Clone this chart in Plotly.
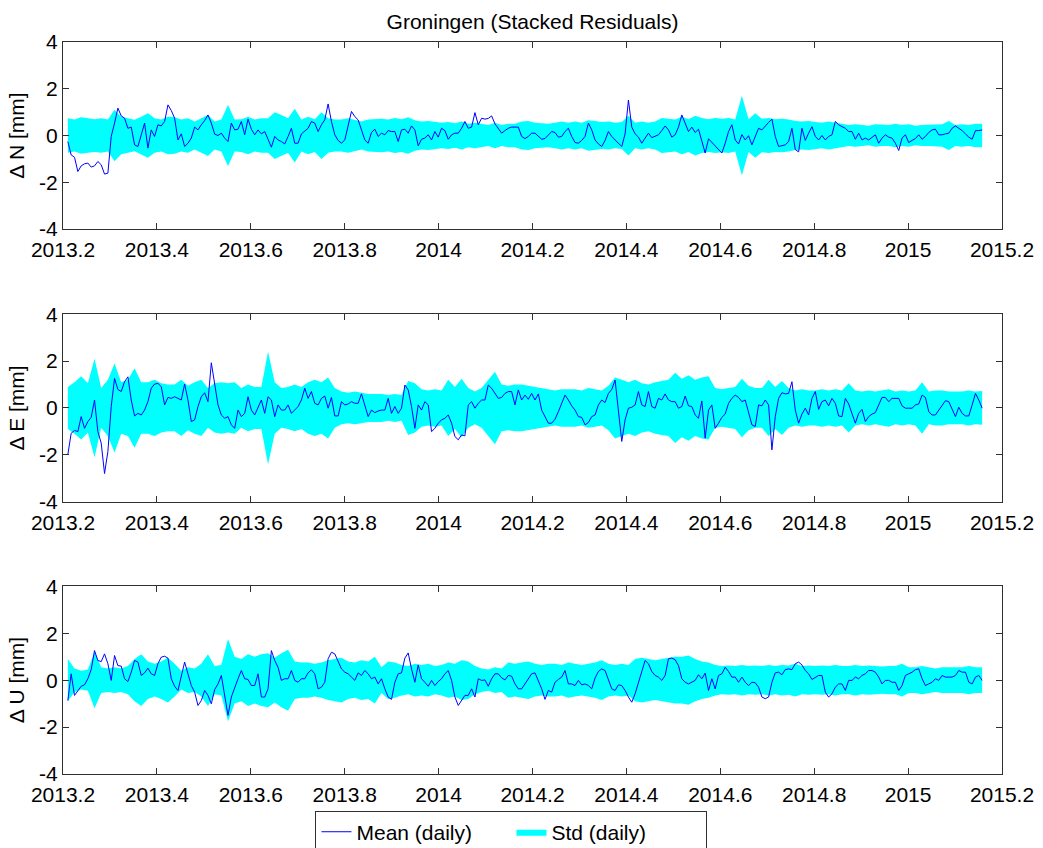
import numpy as np
import plotly.graph_objects as go

# ---------------- data ----------------
t_start, t_end = 2013.2103, 2015.1577   # first / last daily epoch (decimal years)

n_mean = [
    -0.26, -0.83, -0.93, -1.54, -1.3, -1.21, -1.18, -1.35, -1.3, -1.11,
    -1.25, -1.65, -1.61, -0.04, 0.53, 1.17, 0.84, 0.74, 0.31, 0.36,
    -0.4, -0.47, 0.03, 0.53, -0.54, 0.24, -0.04, 0.46, 0.41, 0.6,
    1.31, 1.07, 0.74, -0.19, 0.07, -0.47, -0.33, -0.11, 0.36, 0.24,
    0.46, 0.64, 0.88, 0.53, 0.06, 0.0, 0.1, -0.11, -0.26, 0.53,
    0.24, 0.27, 0.6, 0.03, 0.7, 0.27, 0.03, 0.24, 0.07, 0.17,
    -0.16, -0.5, -0.04, -0.19, -0.26, -0.36, -0.04, 0.31, -0.33, -0.33,
    0.07, 0.21, 0.31, 0.6, 0.53, 0.17, 0.46, 0.67, 1.35, 0.6,
    0.03, -0.21, -0.33, -0.19, 0.38, 1.03, 0.81, 0.67, 0.24, -0.19,
    -0.33, 0.13, 0.27, -0.04,
    0.1, 0.03, 0.21, 0.17, 0.17, -0.26, 0.24, 0.27, 0.1, 0.41,
    0.24, -0.44, -0.16, -0.11, 0.03, -0.19, 0.17, -0.07, 0.31, 0.21,
    -0.16, 0.03, 0.1, 0.1, 0.31, 0.6, 0.31, 0.36, 0.98, 0.46,
    0.74, 0.7, 0.73, 0.84, 0.5, 0.27, 0.1, 0.21, 0.31, 0.36,
    0.36, 0.36, -0.04, -0.13, -0.04, 0.1, 0.1, -0.04, -0.16, -0.13,
    0.03, 0.17, 0.13, -0.07, -0.04, 0.17, 0.31, -0.04, -0.3, -0.33,
    -0.21, -0.04, 0.53, 0.24, -0.19, -0.36, -0.47, -0.21, 0.17, -0.04,
    -0.19, -0.33, -0.47, 0.07, 1.52, 0.36, 0.07, -0.07, -0.33, -0.11,
    0.1, -0.09, -0.04, 0.03, 0.21, 0.41, 0.24, -0.07, 0.03, 0.36,
    0.88, 0.53, 0.17, 0.36, 0.13, 0.27,
    -0.19, -0.75, -0.14, -0.3, -0.44, -0.61, -0.75, -0.33, 0.17, 0.46,
    -0.19, -0.36, 0.04, -0.19, -0.01, -0.4, -0.04, 0.31, 0.24, 0.41,
    0.56, 0.7, -0.04, -0.47, -0.44, -0.4, -0.26, 0.31, -0.6, -0.7,
    0.31, -0.21, 0.1, 0.38, -0.04, -0.19, 0.0, -0.19, -0.04, 0.03,
    0.6, 0.46, 0.38, 0.31, 0.17, 0.17, -0.16, 0.1, -0.19, -0.11,
    -0.19, -0.07, 0.03, -0.33, -0.11, 0.03, -0.07, -0.11, -0.33, -0.64,
    -0.11, 0.03, -0.3, -0.21, -0.13, 0.03, -0.16, -0.04, 0.13, 0.24,
    0.27, 0.03, 0.03, 0.07, 0.1, 0.31, 0.41, 0.31, 0.21, 0.07,
    -0.07, -0.16, 0.21, 0.21, 0.24,
]
n_std = [
    0.74, 0.68, 0.78, 0.74, 0.7, 0.74, 0.68, 1.1, 0.8, 0.74,
    0.67, 0.8, 0.95, 0.74, 0.68, 0.8, 0.78, 0.68, 0.74, 0.6,
    0.74, 0.88, 0.6, 0.68, 1.3, 0.68, 0.7, 0.8, 0.68, 0.74,
    0.74, 1.0, 0.88, 0.74, 1.15, 0.68, 0.8, 0.7, 1.0, 0.74,
    0.68, 0.68, 0.74, 0.68, 0.6, 0.68, 0.7,
    0.72, 0.68, 0.75, 0.7, 0.78, 0.65, 0.6, 0.62, 0.6, 0.55,
    0.58, 0.52, 0.6, 0.5, 0.55, 0.5, 0.45, 0.55, 0.45, 0.5,
    0.5, 0.6, 0.62, 0.55, 0.52, 0.5, 0.55, 0.6, 0.55, 0.6,
    0.55, 0.65, 0.62, 0.58, 0.6, 0.55, 0.58, 0.85, 0.55, 0.6,
    0.55, 0.6, 0.75, 0.72, 0.68, 0.8, 0.7, 0.85,
    0.75, 0.7, 0.75, 0.72, 0.75, 0.68, 1.7, 0.7, 0.95, 0.72,
    0.75, 0.7, 0.72, 0.68, 0.62, 0.6, 0.62, 0.58, 0.55, 0.6,
    0.55, 0.5, 0.45, 0.48, 0.45, 0.42, 0.48, 0.45, 0.45, 0.5,
    0.45, 0.48, 0.42, 0.45, 0.45, 0.45, 0.48, 0.62, 0.45, 0.48,
    0.45, 0.5, 0.5,
]

e_mean = [
    -2.0, -1.08, -0.96, -1.01, -0.37, -0.87, -0.58, -0.4, 0.34, -1.01,
    -1.5, -2.8, -1.86, 0.06, 1.26, 0.79, 0.7, 1.12, 1.33, 0.34,
    -0.34, -0.23, -0.3, -0.09, 0.27, 0.84, 1.02, 1.05, 0.91, 0.13,
    0.45, 0.41, 0.48, 0.41, 0.34, 1.02, 0.34, -0.58, -0.51, 0.06,
    0.48, 0.65, 0.27, 1.93, 0.98, 0.13, -0.3, -0.44, -0.37, -0.72,
    -0.87, -0.09, -0.37, -0.23, 0.48, -0.09, -0.3, 0.06, 0.34, -0.23,
    0.48, 0.34, -0.37, 0.13, -0.09, -0.09, 0.13, -0.23, -0.09, 0.06,
    0.34, 0.84, 0.41, 0.7, 0.2, 0.13, 0.41, 0.51, -0.01, 0.45,
    -0.34, -0.34, 0.27, 0.13, 0.17, 0.27, 0.2, 0.2, 0.6, 0.13,
    -0.37, -0.09, -0.2, -0.13,
    -0.09, -0.09, 0.41, -0.23, 0.06, -0.23, -0.01, 0.98, 0.77, 0.06,
    -0.87, 0.13, -0.09, 0.27, 0.13, -1.01, -0.87, -0.65, -0.51, -0.44,
    -0.3, -0.65, -1.22, -1.36, -1.15, -1.19, 0.13, 0.27, -0.01, 0.2,
    0.34, 0.34, 0.98, 0.84, 0.62, 0.41, 0.45, 0.62, 0.7, 0.7,
    0.13, 0.77, 0.34, 0.55, 0.37, 0.62, 0.34, 0.6, -0.09, -0.37,
    -0.65, -0.65, -0.48, -0.16, 0.2, 0.55, 0.34, 0.09, -0.09, -0.37,
    -0.4, -0.72, -0.62, -0.37, -0.3, 0.13, 0.34, 0.23, 0.62, 0.79,
    1.19, -0.09, -1.43, -0.51, -0.01, 0.03, 0.13, 0.7, 0.13, 0.06,
    0.7, 0.06, -0.01, 0.41, 0.34, 0.6, 0.34, 0.27, 0.27, -0.01,
    0.06, 0.51, 0.09, 0.06, -0.3, -0.44,
    0.3, -1.29, -0.09, 0.13, -0.87, -0.65, -0.4, -0.26, 0.2, 0.41,
    0.55, 0.45, 0.27, 0.34, -0.23, -0.72, -0.79, 0.13, 0.09, 0.34,
    0.13, -1.79, -0.37, 0.41, 0.65, 0.6, 0.62, 1.12, -0.09, -0.65,
    -0.26, -0.01, -0.3, 0.41, 0.7, -0.06, 0.27, 0.34, 0.09, 0.41,
    0.2, -0.34, -0.37, 0.41, 0.17, -0.23, -0.65, -0.23, -0.06, -0.58,
    -0.37, -0.26, -0.2, 0.13, 0.45, 0.45, 0.27, 0.41, 0.41, 0.41,
    0.09, -0.01, -0.01, -0.01, 0.13, 0.17, 0.55, 0.45, -0.16, -0.3,
    -0.3, -0.09, 0.13, 0.31, 0.27, -0.06, -0.37, 0.03, -0.23, -0.34,
    -0.34, 0.13, 0.62, 0.34, -0.01,
]
e_std = [
    0.9, 1.1, 1.35, 1.05, 2.1, 0.85, 1.2, 1.9, 1.1, 1.2,
    1.7, 1.1, 1.1, 1.2, 1.05, 1.0, 1.0, 1.2, 0.95, 1.1,
    1.2, 0.85, 1.05, 1.1, 1.05, 1.1, 0.85, 1.0, 0.9, 0.9,
    2.4, 1.1, 0.85, 0.9, 1.0, 0.9, 1.1, 1.2, 1.1, 1.3,
    0.85, 0.7, 0.65, 0.7, 0.65, 0.6, 0.6,
    0.6, 0.55, 0.6, 0.55, 1.15, 1.05, 0.8, 0.75, 0.8, 0.75,
    1.2, 0.9, 1.25, 0.85, 0.7, 0.85, 1.2, 1.55, 1.0, 0.95,
    1.0, 1.0, 0.95, 0.9, 0.85, 0.8, 0.75, 0.8, 0.8, 0.8,
    0.75, 0.85, 0.8, 0.75, 0.95, 1.3, 1.2, 1.1, 1.2, 1.05,
    1.0, 1.1, 1.15, 1.2, 1.5, 1.25, 1.4, 1.2,
    1.3, 1.35, 0.85, 0.8, 0.85, 0.9, 1.25, 0.95, 0.85, 0.85,
    1.2, 0.9, 1.15, 0.85, 0.75, 0.8, 0.75, 0.75, 0.8, 0.75,
    0.8, 0.75, 1.05, 0.75, 0.7, 0.75, 0.7, 0.75, 0.8, 0.7,
    0.75, 0.7, 0.75, 1.1, 0.7, 0.75, 0.75, 0.7, 0.7, 0.7,
    0.75, 0.7, 0.72,
]

u_mean = [
    -0.87, 0.27, -0.65, -0.44, -0.26, -0.2, 0.06, 0.45, 1.26, 0.84,
    0.79, 1.12, 0.7, -0.01, 1.05, 0.62, 0.6, 0.06, -0.06, 0.34,
    0.84, 0.77, 0.2, 0.31, 0.51, 0.27, 0.2, 0.7, 0.98, 1.02,
    0.94, 0.06, -0.26, -0.44, 0.13, 0.77, 0.27, -0.23, -0.51, -1.08,
    -0.87, -0.44, -0.65, -1.01, -0.4, -0.16, 0.2, -0.65, -1.5, -0.72,
    -0.3, 0.06, 0.41, 0.06, 0.03, -0.23, -0.23, 0.27, -0.72, -0.72,
    -0.37, 1.26, 0.84, 0.55, -0.01, 0.06, 0.06, 0.41, -0.01, -0.09,
    0.06, 0.06, 0.31, 0.44, 0.27, -0.37, -0.3, -0.09, 0.91, 1.19,
    1.12, 0.77, 0.48, 0.34, 0.27, 0.13, -0.01, 0.31, 0.2, 0.41,
    0.27, 0.06, 0.13, -0.16,
    0.06, -0.37, -0.72, -0.82, -0.09, 0.27, 0.31, 0.94, 1.16, 0.48,
    -0.09, 0.65, 0.06, -0.09, -0.26, -0.01, -0.23, -0.06, 0.06, 0.27,
    0.41, -0.01, -0.72, -1.08, -0.87, -0.65, -0.65, -0.37, -0.72, 0.06,
    -0.01, 0.01, -0.26, 0.06, 0.27, 0.27, 0.1, 0.01, 0.2, 0.17,
    -0.16, -0.37, -0.37, -0.16, 0.01, 0.27, 0.31, -0.01, -0.37, -0.82,
    -0.44, -0.51, -0.09, 0.03, 0.13, 0.41, -0.16, -0.16, -0.23, -0.01,
    -0.2, -0.16, -0.23, -0.37, 0.09, 0.37, 0.48, 0.41, 0.06, -0.37,
    -0.44, -0.2, -0.23, -0.44, -0.72, -0.94, -0.58, -0.09, 0.41, 0.84,
    0.7, 0.37, 0.2, 0.13, -0.01, 0.2, 0.91, 0.94, 0.87, 0.62,
    0.06, -0.09, -0.16, -0.09, -0.01, 0.23,
    0.06, 0.3, -0.44, 0.06, -0.37, 0.2, 0.27, 0.55, 0.37, 0.13,
    0.13, -0.09, 0.13, -0.09, -0.23, -0.09, -0.11, -0.3, -0.72, -0.79,
    -0.72, -0.09, 0.31, 0.34, 0.23, 0.45, 0.48, 0.45, 0.7, 0.77,
    0.65, 0.41, 0.27, 0.03, 0.13, 0.2, 0.2, -0.51, -0.72, -0.58,
    -0.3, -0.16, -0.16, -0.44, -0.01, -0.01, 0.13, 0.06, 0.2, 0.27,
    0.41, 0.41, 0.34, 0.13, -0.16, -0.01, -0.01, -0.09, -0.09, -0.44,
    -0.23, 0.2, 0.27, 0.34, 0.45, 0.48, 0.06, -0.23, -0.16, -0.09,
    0.06, -0.01, 0.2, 0.13, 0.13, 0.13, 0.2, 0.41, 0.34, 0.34,
    -0.09, -0.16, 0.13, 0.2, -0.01,
]
u_std = [
    0.9, 0.5, 0.4, 0.45, 1.2, 0.55, 0.5, 0.55, 0.5, 0.6,
    0.9, 1.1, 0.8, 0.7, 0.8, 0.95, 0.7, 0.4, 0.55, 0.5,
    0.7, 1.1, 0.6, 0.65, 1.75, 1.0, 0.9, 1.1, 1.0, 1.1,
    1.15, 0.95, 1.15, 1.3, 0.8, 0.75, 0.75, 0.7, 0.75, 0.85,
    0.9, 0.95, 0.8, 0.75, 0.85, 0.8, 1.0,
    0.55, 0.8, 0.75, 0.65, 0.6, 0.7, 0.65, 0.7, 0.6, 0.65,
    0.75, 0.7, 0.85, 0.8, 0.6, 0.5, 0.45, 0.55, 0.5, 0.75,
    0.7, 0.75, 0.8, 0.7, 0.65, 0.7, 0.7, 0.65, 0.75, 0.7,
    0.65, 0.7, 0.75, 0.85, 0.7, 0.65, 0.7, 0.65, 0.9, 0.95,
    0.9, 0.85, 0.9, 0.95, 1.0, 1.0, 1.05, 0.9,
    0.8, 0.75, 0.65, 0.6, 0.62, 0.6, 0.65, 0.6, 0.62, 0.6,
    0.65, 0.6, 0.65, 0.62, 0.7, 0.6, 0.62, 0.6, 0.62, 0.6,
    0.65, 0.6, 0.6, 0.65, 0.6, 0.62, 0.6, 0.58, 0.6, 0.6,
    0.7, 0.55, 0.55, 0.6, 0.55, 0.5, 0.55, 0.55, 0.55, 0.55,
    0.6, 0.55, 0.55,
]

x_tick_vals = [2013.2, 2013.4, 2013.6, 2013.8, 2014.0, 2014.2, 2014.4, 2014.6, 2014.8, 2015.0, 2015.2]
x_tick_text = ["2013.2", "2013.4", "2013.6", "2013.8", "2014", "2014.2", "2014.4", "2014.6", "2014.8", "2015", "2015.2"]
y_tick_vals = [-4, -2, 0, 2, 4]
y_tick_text = ["-4", "-2", "0", "2", "4"]
y_titles = ["\u0394 N [mm]", "\u0394 E [mm]", "\u0394 U [mm]"]
chart_title = "Groningen (Stacked Residuals)"
legend_names = ["Mean (daily)", "Std (daily)"]

# ---------------- figure ----------------
FONT = "Liberation Sans, Arial, Helvetica, sans-serif"
W, H = 1043, 848
ML, MR, MT, MB = 63, 41, 42, 74
domains = [[0.7445, 1.0], [0.3721, 0.628], [0.0, 0.2564]]

fig = go.Figure()
panels = [(n_mean, n_std), (e_mean, e_std), (u_mean, u_std)]
for i, (mean, std) in enumerate(panels):
    ax = "" if i == 0 else str(i + 1)
    t_m = np.linspace(t_start, t_end, len(mean))
    t_s = np.linspace(t_start, t_end, len(std))
    s = np.asarray(std, dtype=float)
    poly_x = np.concatenate([t_s, t_s[::-1]])
    poly_y = np.concatenate([s, -s[::-1]])
    fig.add_trace(go.Scatter(
        x=poly_x, y=poly_y, mode="lines", fill="toself",
        fillcolor="#00ffff", line=dict(width=0, color="#00ffff"),
        name=legend_names[1], showlegend=(i == 0), legendrank=2,
        xaxis="x" + ax, yaxis="y" + ax, hoverinfo="skip"))
    fig.add_trace(go.Scatter(
        x=t_m, y=mean, mode="lines",
        line=dict(width=1, color="#0000ff"),
        name=legend_names[0], showlegend=(i == 0), legendrank=1,
        xaxis="x" + ax, yaxis="y" + ax))

axis_common = dict(
    showline=True, linecolor="#303030", linewidth=1, mirror="ticks",
    ticks="inside", ticklen=6, tickcolor="#303030", tickwidth=1,
    showgrid=False, zeroline=False,
    tickfont=dict(family=FONT, size=21, color="#000000"),
)
layout = dict(
    width=W, height=H,
    margin=dict(l=ML, r=MR, t=MT, b=MB, pad=0, autoexpand=False),
    paper_bgcolor="white", plot_bgcolor="white",
    font=dict(family=FONT, size=21, color="#000000"),
    title=dict(text=chart_title, x=0.5, xref="paper", xanchor="center",
               y=1 - 22 / H, yref="container", yanchor="middle",
               font=dict(family=FONT, size=21, color="#000000")),
    showlegend=True,
    legend=dict(orientation="h", x=0.4776, xanchor="center", xref="paper",
                y=-0.050, yanchor="top", yref="paper",
                bordercolor="#303030", borderwidth=1, bgcolor="white",
                font=dict(family=FONT, size=21, color="#000000"),
                entrywidth=150, entrywidthmode="pixels",
                traceorder="normal"),
)
for i in range(3):
    key = "" if i == 0 else str(i + 1)
    layout["xaxis" + key] = dict(
        axis_common, domain=[0, 1], range=[2013.2, 2015.2],
        tickmode="array", tickvals=x_tick_vals, ticktext=x_tick_text,
        ticklabelstandoff=2, anchor="y" + key)
    layout["yaxis" + key] = dict(
        axis_common, domain=domains[i], range=[-4, 4],
        tickmode="array", tickvals=y_tick_vals, ticktext=y_tick_text,
        anchor="x" + key,
        title=dict(text=y_titles[i], standoff=8,
                   font=dict(family=FONT, size=21, color="#000000")))
fig.update_layout(**layout)

fig.write_html("out.html", config={"displayModeBar": False})
with open("out.html", "r", encoding="utf-8") as f:
    html = f.read()
html = html.replace("<head>", "<head><style>html,body{margin:0;padding:0;overflow:hidden;}</style>", 1)
with open("out.html", "w", encoding="utf-8") as f:
    f.write(html)
